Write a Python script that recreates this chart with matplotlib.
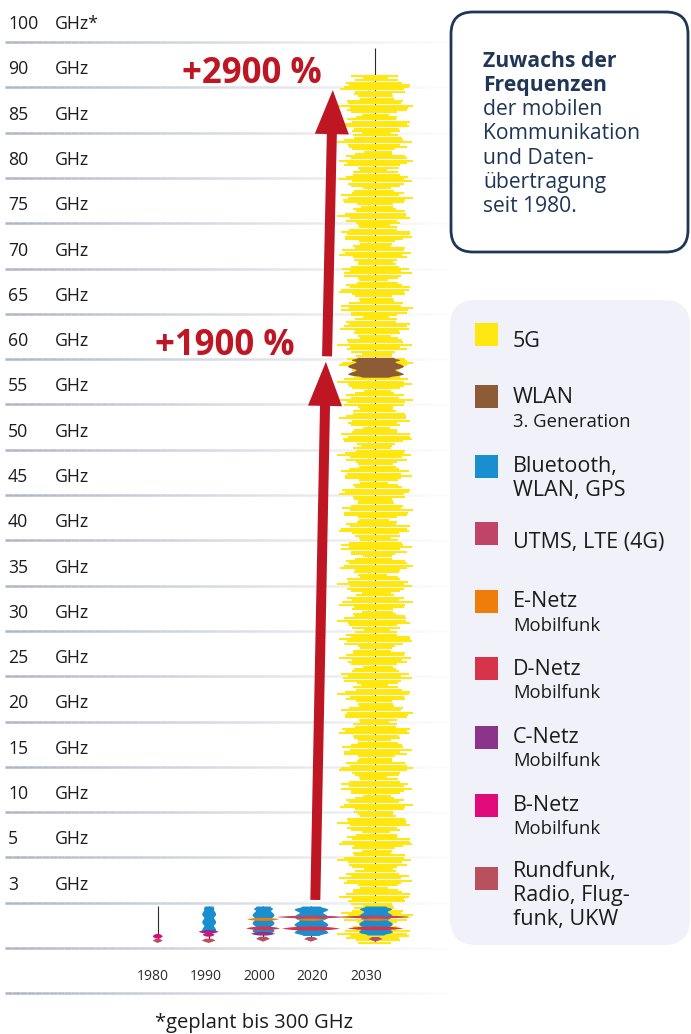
import matplotlib

matplotlib.use("Agg")
import matplotlib.pyplot as plt
import numpy as np
from matplotlib import transforms
from matplotlib.collections import LineCollection
from matplotlib.patches import ArrowStyle, FancyArrowPatch, FancyBboxPatch, Rectangle

plt.rcParams["font.family"] = ["Open Sans", "DejaVu Sans"]

# --- data --------------------------------------------------------------
freq_ticks = [100, 90, 85, 80, 75, 70, 65, 60, 55, 50, 45, 40, 35, 30, 25, 20, 15, 10, 5, 3]
years = [1980, 1990, 2000, 2020, 2030]

tech_keys = ["5G", "WLAN", "Bluetooth", "UTMS", "E-Netz", "D-Netz", "C-Netz", "B-Netz", "Rundfunk"]
tech_colors = ["#ffe812", "#8d5b35", "#1a8fd0", "#bf4468", "#ee7d0b",
               "#d7344b", "#8a3589", "#e10a7a", "#b9505e"]
legend_main = [["5G"], ["WLAN"], ["Bluetooth,", "WLAN, GPS"], ["UTMS, LTE (4G)"],
               ["E-Netz"], ["D-Netz"], ["C-Netz"], ["B-Netz"],
               ["Rundfunk,", "Radio, Flug-", "funk, UKW"]]
legend_sub = ["", "3. Generation", "", "", "Mobilfunk", "Mobilfunk", "Mobilfunk", "Mobilfunk", ""]

# frequency bands in use per year (GHz)
band_year = [1980, 1980,
             1990, 1990, 1990, 1990,
             2000, 2000, 2000, 2000, 2000,
             2020, 2020, 2020, 2020, 2020,
             2030, 2030, 2030, 2030, 2030, 2030, 2030]
band_tech = ["B-Netz", "Rundfunk",
             "Bluetooth", "C-Netz", "B-Netz", "Rundfunk",
             "Bluetooth", "E-Netz", "D-Netz", "C-Netz", "Rundfunk",
             "Bluetooth", "UTMS", "E-Netz", "D-Netz", "Rundfunk",
             "5G", "WLAN", "Bluetooth", "UTMS", "E-Netz", "D-Netz", "Rundfunk"]
band_lo = [0.62, 0.33,
           1.0, 0.95, 0.75, 0.33,
           0.93, 1.8, 1.18, 0.82, 0.42,
           0.83, 1.96, 1.8, 1.15, 0.42,
           0.35, 58.0, 0.86, 1.96, 1.8, 1.18, 0.42]
band_hi = [0.93, 0.6,
           2.78, 1.2, 1.0, 0.62,
           2.78, 2.0, 1.42, 1.07, 0.75,
           2.78, 2.14, 1.95, 1.42, 0.73,
           93.0, 60.2, 2.78, 2.14, 1.95, 1.42, 0.73]

column_line_top = [2.8, 2.8, 2.8, 2.8, 98.7]
column_line_bottom = [0.5, 0.5, 0.5, 0.5, 0.3]

arrow_from = [3, 60]
arrow_to = [60, 90]
base_freq = 3

# --- layout / style ----------------------------------------------------
W, H, DPI = 691, 1034, 100
ROW_PX = 45.3        # height of one row
ZERO_PX = 948        # pixel row of the 0 GHz line
X0_PX, COL_PX = 152.7, 53.3

column_x = [0.094, 1.05, 2.07, 2.97, 4.18]
band_halfwidth_px = [5, 5,
                     7, 10, 6, 7,
                     11, 16, 17, 12, 7,
                     17, 35, 15, 29, 7,
                     38, 28, 17, 36, 15, 28, 7]
tech_shape = {"5G": "streak", "WLAN": "stack", "Bluetooth": "stack", "Rundfunk": "drop"}

arrow_x = [(3.05, 3.25), (3.27, 3.38)]
pct_label_x = [2.67, 3.18]

RED = "#be1622"
NAVY = "#1f3657"
TXT = "#1c1c1c"

CLUSTER = [0.46, 0.64, 0.82, 0.95, 1.0, 0.92, 0.78, 0.6]
JIT_L = [1.0, 0.8, 0.95, 0.7, 1.0, 0.88, 0.66, 0.97, 0.84, 0.76, 1.0, 0.9, 0.72]
JIT_R = [0.9, 1.0, 0.74, 0.93, 0.82, 1.0, 0.68, 0.96, 0.8, 0.88, 1.0]
LUMP = [0.7, 0.85, 0.95, 1.0, 0.97, 0.9, 0.8, 0.7]

steps = np.array([0] + freq_ticks[::-1], dtype=float)
rows = np.arange(len(steps), dtype=float)


def freq_to_row(f):
    f = np.asarray(f, dtype=float)
    r = np.interp(f, steps, rows)
    r = np.where(f < 0, f / 3.0, r)
    r = np.where(f > 100, rows[-1] + (f - 100) / 10.0, r)
    return r


def row_to_freq(r):
    r = np.asarray(r, dtype=float)
    f = np.interp(r, rows, steps)
    f = np.where(r < 0, r * 3.0, f)
    f = np.where(r > rows[-1], 100 + (r - rows[-1]) * 10.0, f)
    return f


fig = plt.figure(figsize=(W / DPI, H / DPI), dpi=DPI)
fig.patch.set_facecolor("white")

lay = fig.add_axes([0, 0, 1, 1])
lay.set_xlim(0, W)
lay.set_ylim(H, 0)
lay.axis("off")

ax = fig.add_axes([0, 0, 1, 1])
ax.patch.set_alpha(0)
ax.set_xlim(-X0_PX / COL_PX, (W - X0_PX) / COL_PX)
ax.set_yscale("function", functions=(freq_to_row, row_to_freq))
ax.set_ylim(float(row_to_freq(-(H - ZERO_PX) / ROW_PX)), float(row_to_freq(ZERO_PX / ROW_PX)))
ax.axis("off")

px_x_data_y = transforms.blended_transform_factory(lay.transData, ax.transData)
data_x_px_y = transforms.blended_transform_factory(ax.transData, lay.transData)

# fading grid lines
xs = np.linspace(5, 448, 61)
t = np.linspace(0, 1, len(xs) - 1)
grid_rgba = np.zeros((len(t), 4))
grid_rgba[:, :3] = matplotlib.colors.to_rgb("#aeb2c5")
grid_rgba[:, 3] = 0.95 * (1 - t) ** 1.2 + 0.04
for k in range(-1, len(steps)):
    y = float(row_to_freq(k))
    segs = [[(xs[i], y), (xs[i + 1], y)] for i in range(len(xs) - 1)]
    ax.add_collection(LineCollection(segs, colors=grid_rgba, linewidths=1.8,
                                     transform=px_x_data_y, zorder=0.5), autolim=False)

# row labels
lab_tr = px_x_data_y + transforms.ScaledTranslation(0, 13 / DPI, fig.dpi_scale_trans)
for f in freq_ticks:
    ax.text(8, f, f"{f}", transform=lab_tr, va="baseline", ha="left", fontsize=12.7, color=TXT)
    ax.text(55, f, "GHz*" if f == 100 else "GHz", transform=lab_tr, va="baseline",
            ha="left", fontsize=12.7, color=TXT)

# year labels
for i, yr in enumerate(years):
    ax.text(i, 980, str(yr), transform=data_x_px_y, ha="center", va="baseline",
            fontsize=10, color="#2a2a2a")

# column axis lines
ax.vlines(column_x, column_line_bottom, column_line_top, colors="#2b2b2b", lw=0.8, zorder=1.5)


def draw_streak(cx, lo, hi, hw, color):
    r = np.arange(freq_to_row(lo), freq_to_row(hi), 2.3 / ROW_PX)
    n = len(r)
    env = np.resize(CLUSTER, n)
    left = cx - hw * env * np.resize(JIT_L, n)
    right = cx + hw * env * np.resize(JIT_R, n)
    ax.hlines(row_to_freq(r), left, right, colors=color, lw=1.45, zorder=2)


def draw_stack(cx, lo, hi, hw, color):
    r0, r1 = float(freq_to_row(lo)), float(freq_to_row(hi))
    n = max(int((r1 - r0) * ROW_PX) + 2, 4)
    r = np.linspace(r0, r1, n)
    prof = np.resize(LUMP, n)
    d = np.minimum(r - r0, r1 - r) * ROW_PX
    prof = prof * np.clip(d / 2.5, 0.45, 1.0) ** 0.5
    ax.fill_betweenx(row_to_freq(r), cx - hw * prof, cx + hw * prof, color=color, lw=0, zorder=3)


def draw_lens(cx, lo, hi, hw, color):
    r0, r1 = float(freq_to_row(lo)), float(freq_to_row(hi))
    rm, hh = (r0 + r1) / 2, (r1 - r0) / 2
    u = np.linspace(-1, 1, 31)
    h = 1 - np.abs(u) ** 2.5
    px = np.concatenate([cx + hw * u, cx + hw * u[::-1]])
    pr = np.concatenate([rm + hh * h, (rm - hh * h)[::-1]])
    ax.fill(px, row_to_freq(pr), color=color, lw=0, zorder=4)


def draw_drop(cx, lo, hi, hw, color):
    r0, r1 = float(freq_to_row(lo)), float(freq_to_row(hi))
    h = r1 - r0
    px = [cx - hw, cx - 0.45 * hw, cx + 0.45 * hw, cx + hw, cx]
    pr = [r1 - 0.45 * h, r1, r1, r1 - 0.45 * h, r0]
    ax.fill(px, row_to_freq(pr), color=color, lw=0, zorder=4)


drawers = {"streak": draw_streak, "stack": draw_stack, "lens": draw_lens, "drop": draw_drop}
order = {"streak": 0, "stack": 1, "lens": 2, "drop": 2}
idx = sorted(range(len(band_tech)), key=lambda i: order[tech_shape.get(band_tech[i], "lens")])
for i in idx:
    tech = band_tech[i]
    shape = tech_shape.get(tech, "lens")
    cx = column_x[years.index(band_year[i])]
    hw = band_halfwidth_px[i] / COL_PX
    drawers[shape](cx, band_lo[i], band_hi[i], hw, tech_colors[tech_keys.index(tech)])

# growth arrows
style = ArrowStyle.Simple(head_length=31.7, head_width=24.5, tail_width=7.2)
pct_tr = ax.transData + transforms.ScaledTranslation(0, 4.5 / DPI, fig.dpi_scale_trans)
for (x0, x1), f0, f1, lx in zip(arrow_x, arrow_from, arrow_to, pct_label_x):
    ax.add_patch(FancyArrowPatch((x0, f0), (x1, f1), arrowstyle=style, mutation_scale=1,
                                 color=RED, lw=0, zorder=5))
    pct = (f1 / base_freq - 1) * 100
    ax.text(lx, f1, f"+{pct:.0f} %", transform=pct_tr, ha="right", va="baseline",
            fontsize=25, fontweight="bold", color=RED)

# title box
lay.add_patch(FancyBboxPatch((451, 12), 237, 240, boxstyle="round,pad=0,rounding_size=22",
                             fc="white", ec=NAVY, lw=2))
title_lines = [("Zuwachs der", "bold"), ("Frequenzen", "bold"), ("der mobilen", "normal"),
               ("Kommunikation", "normal"), ("und Daten-", "normal"),
               ("übertragung", "normal"), ("seit 1980.", "normal")]
for j, (line, weight) in enumerate(title_lines):
    lay.text(483, 66.7 + 24.2 * j, line, fontsize=15.2, fontweight=weight, color=NAVY,
             ha="left", va="baseline")

# legend panel
lay.add_patch(FancyBboxPatch((450, 300), 240, 645, boxstyle="round,pad=0,rounding_size=26",
                             fc="#f1f2f9", ec="none"))
swatch_top = [323, 385, 455, 522, 590, 657, 726, 794, 867]
text_base = [346.7, 403.3, 471.7, 548, 607.3, 675, 743, 810.7, 876.7]
for i in range(len(tech_keys)):
    lay.add_patch(Rectangle((475, swatch_top[i]), 23, 23, fc=tech_colors[i], ec="none"))
    y = text_base[i]
    for line in legend_main[i]:
        lay.text(513, y, line, fontsize=15.5, color=TXT, ha="left", va="baseline")
        y += 24
    if legend_sub[i]:
        lay.text(513, y - 0.5, legend_sub[i], fontsize=13.3, color=TXT, ha="left", va="baseline")

# footnote
lay.text(254, 1028, "*geplant bis 300 GHz", fontsize=14.5, color=TXT, ha="center", va="baseline")

fig.savefig("out.png", dpi=DPI)
